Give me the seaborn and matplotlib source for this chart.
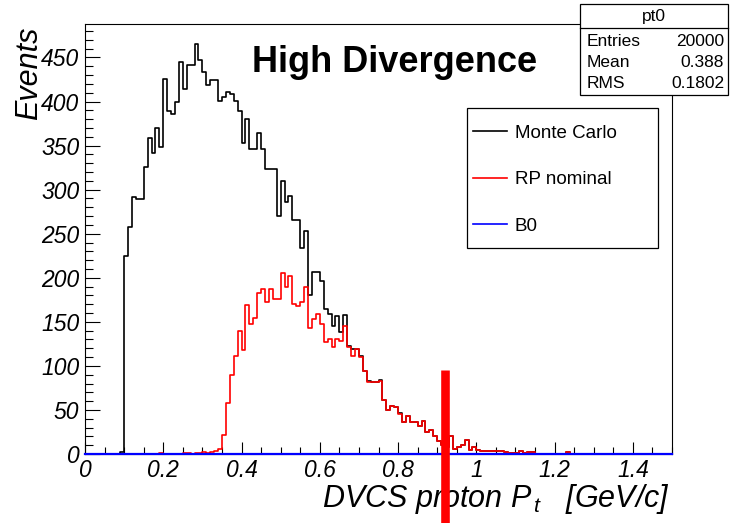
import numpy as np
import pandas as pd
import matplotlib
matplotlib.use("Agg")
import matplotlib.pyplot as plt
from matplotlib.lines import Line2D
from matplotlib.patches import Rectangle
from matplotlib.ticker import MultipleLocator, FixedLocator, FixedFormatter
import seaborn as sns

# ---------------- data ----------------
x_min, x_max, n_bins = 0.0, 1.5, 150

mc_counts = [
    0, 0, 0, 0, 0, 0, 0, 0, 0, 2,
    225, 258, 292, 289, 289, 326, 359, 342, 370, 348,
    426, 389, 386, 399, 445, 414, 442, 441, 465, 447,
    433, 419, 424, 424, 401, 405, 411, 409, 401, 389,
    353, 380, 346, 346, 364, 346, 323, 324, 323, 270,
    310, 286, 293, 266, 266, 234, 253, 181, 206, 207,
    196, 164, 159, 145, 157, 139, 158, 123, 119, 119,
    111, 94, 83, 82, 82, 84, 61, 50, 55, 53,
    46, 36, 43, 36, 36, 32, 37, 25, 27, 20,
    15, 10, 8, 20, 6, 8, 10, 16, 5, 8,
    4, 3, 3, 3, 3, 3, 3, 2, 1, 1,
    1, 3, 1, 2, 2, 0, 0, 0, 0, 0,
    0, 0, 0, 2, 0, 0, 0, 0, 0, 0,
    0, 0, 0, 0, 0, 0, 0, 0, 0, 0,
    0, 0, 0, 0, 0, 0, 0, 0, 0, 0,
]

rp_counts = [
    0, 0, 0, 0, 0, 0, 0, 0, 0, 0,
    0, 0, 0, 0, 0, 0, 0, 0, 0, 1,
    0, 0, 0, 0, 0, 1, 1, 0, 1, 1,
    2, 1, 2, 3, 6, 22, 58, 90, 111, 140,
    118, 169, 147, 154, 183, 187, 172, 187, 176, 176,
    205, 190, 202, 170, 168, 172, 190, 143, 153, 159,
    147, 127, 131, 121, 131, 128, 145, 122, 111, 119,
    110, 94, 82, 82, 82, 83, 61, 50, 55, 53,
    45, 36, 43, 36, 36, 32, 37, 25, 27, 20,
    15, 10, 8, 20, 6, 8, 10, 16, 5, 8,
    4, 3, 3, 3, 3, 3, 3, 2, 1, 1,
    1, 3, 1, 2, 2, 0, 0, 0, 0, 0,
    0, 0, 0, 2, 0, 0, 0, 0, 0, 0,
    0, 0, 0, 0, 0, 0, 0, 0, 0, 0,
    0, 0, 0, 0, 0, 0, 0, 0, 0, 0,
]

b0_counts = [0] * n_bins

series_names = ["Monte Carlo", "RP nominal", "B0"]
series_colors = ["black", "#ff0000", "#0000ff"]

x_tick_values = [0, 0.2, 0.4, 0.6, 0.8, 1.0, 1.2, 1.4]
x_tick_labels = ["0", "0.2", "0.4", "0.6", "0.8", "1", "1.2", "1.4"]
y_tick_values = [0, 50, 100, 150, 200, 250, 300, 350, 400, 450]
y_tick_labels = [str(v) for v in y_tick_values]

title_text = "High Divergence"
x_title = r"DVCS proton $P_{\,t}$   [GeV/c]"
y_title = "Events"
stats_name = "pt0"
stats_rows = [("Entries", "20000"), ("Mean", "0.388"), ("RMS", "0.1802")]

marker_x = 0.921      # red annotation bar (drawn over the slide)
marker_top = 95

# ---------------- build table ----------------
edges = np.linspace(x_min, x_max, n_bins + 1)
centers = 0.5 * (edges[:-1] + edges[1:])
df = pd.DataFrame({
    "pt": np.tile(centers, 3),
    "count": np.concatenate([mc_counts, rp_counts, b0_counts]).astype(float),
    "series": np.repeat(series_names, n_bins),
})

# ---------------- style ----------------
plt.rcParams.update({
    "font.family": ["Liberation Sans", "DejaVu Sans"],
    "mathtext.fontset": "custom",
    "mathtext.it": "Liberation Sans:italic",
    "mathtext.rm": "Liberation Sans",
    "axes.linewidth": 0.8,
})

W, H = 730, 523
fig = plt.figure(figsize=(W / 100, H / 100), dpi=100)
ax_l, ax_r, ax_t, ax_b = 85, 672, 24, 454
ax = fig.add_axes([ax_l / W, 1 - ax_b / H, (ax_r - ax_l) / W, (ax_b - ax_t) / H])

zs = [2, 3, 4]
lws = [1.2, 1.2, 1.6]
for name, col, z, lw in zip(series_names, series_colors, zs, lws):
    sub = df[df["series"] == name]
    sns.histplot(data=sub, x="pt", weights="count", bins=n_bins,
                 binrange=(x_min, x_max), element="step",
                 fill=False, color=col, linewidth=lw, ax=ax, zorder=z,
                 clip_on=(name != "B0"))

ax.set_xlim(x_min, x_max)
ax.set_ylim(0, 488)

# ticks
ax.xaxis.set_major_locator(FixedLocator(x_tick_values))
ax.xaxis.set_major_formatter(FixedFormatter(x_tick_labels))
ax.xaxis.set_minor_locator(MultipleLocator(0.05))
ax.yaxis.set_major_locator(FixedLocator(y_tick_values))
ax.yaxis.set_major_formatter(FixedFormatter(y_tick_labels))
ax.yaxis.set_minor_locator(MultipleLocator(10))
ax.tick_params(axis="both", which="both", direction="in", top=False, right=False,
               width=0.8)
ax.tick_params(axis="y", which="major", length=11, pad=4)
ax.tick_params(axis="y", which="minor", length=5.5)
ax.tick_params(axis="x", which="major", length=9, pad=3.5)
ax.tick_params(axis="x", which="minor", length=5)
for lab in ax.get_xticklabels() + ax.get_yticklabels():
    lab.set_fontsize(16.5)
    lab.set_fontstyle("italic")

# axis titles
ax.set_xlabel(x_title, fontsize=22, fontstyle="italic", loc="right")
ax.xaxis.set_label_coords((670 - ax_l) / (ax_r - ax_l), (ax_b - 482) / (ax_b - ax_t))
ax.set_ylabel(y_title, fontsize=22, fontstyle="italic", loc="top")
ax.yaxis.set_label_coords((44 - ax_l) / (ax_r - ax_l), (ax_b - 27) / (ax_b - ax_t))

# title
fig.text(395 / W, 1 - 63 / H, title_text, fontsize=26, fontweight="bold",
         ha="center", va="center")

# legend box
leg_l, leg_r, leg_t, leg_b = 467, 658, 108, 248
def afx(px):
    return (px - ax_l) / (ax_r - ax_l)
def afy(py):
    return (ax_b - py) / (ax_b - ax_t)
ax.add_patch(Rectangle((afx(leg_l), afy(leg_b)), afx(leg_r) - afx(leg_l),
                       afy(leg_t) - afy(leg_b), transform=ax.transAxes,
                       facecolor="white", edgecolor="black", lw=0.9, zorder=6))
handles = [Line2D([], [], color=c, lw=1.2) for c in series_colors]
leg = ax.legend(handles, series_names, loc="upper left",
                bbox_to_anchor=(afx(469), afy(121)), frameon=False,
                fontsize=13.5, handlelength=1.85, handletextpad=0.4,
                labelspacing=1.56, borderaxespad=0, borderpad=0.2)
leg.set_zorder(7)

# stats box
sb_l, sb_r, sb_t, sb_b, sb_h = 580, 728, 4, 95, 28
fig.add_artist(Rectangle((sb_l / W, 1 - sb_b / H), (sb_r - sb_l) / W, (sb_b - sb_t) / H,
                         transform=fig.transFigure, facecolor="white",
                         edgecolor="black", lw=0.9, zorder=10))
fig.add_artist(Line2D([sb_l / W, sb_r / W], [1 - sb_h / H, 1 - sb_h / H],
                      transform=fig.transFigure, color="black", lw=0.9, zorder=11))
fig.text((sb_l + sb_r) / 2 / W, 1 - 16 / H, stats_name, fontsize=12.5,
         ha="center", va="center", zorder=12)
for i, (k, v) in enumerate(stats_rows):
    yy = 1 - (41 + 21.5 * i) / H
    fig.text(587 / W, yy, k, fontsize=12.5, ha="left", va="center", zorder=12)
    fig.text(724 / W, yy, v, fontsize=12.5, ha="right", va="center", zorder=12)

# red annotation bar
ax.plot([marker_x, marker_x], [marker_top, -90], color="#ff0000", lw=6.2,
        solid_capstyle="butt", clip_on=False, zorder=20)

fig.savefig("out.png", dpi=100)
